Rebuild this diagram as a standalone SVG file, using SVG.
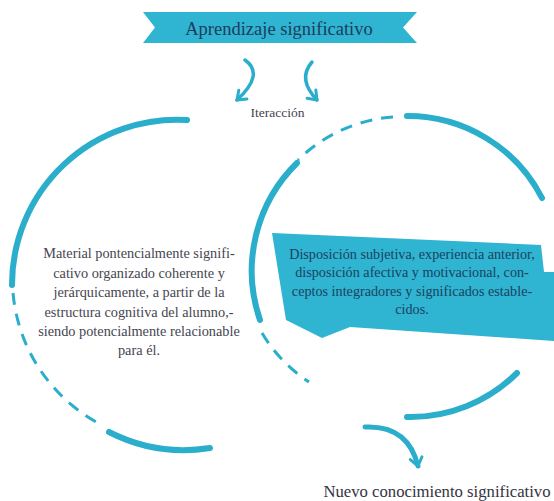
<svg xmlns="http://www.w3.org/2000/svg" width="554" height="501" viewBox="0 0 554 501">
<style>
.solid{fill:none;stroke:#2aaecb;stroke-width:6;stroke-linecap:round}
.dash{fill:none;stroke:#2aaecb;stroke-width:3;stroke-dasharray:12 9}
.conn{fill:none;stroke:#2aaecb;stroke-linecap:round}
text{font-family:'Liberation Serif','DejaVu Serif',serif;text-anchor:middle}
.grey{fill:#45454f;font-size:14.3px}
.dark{fill:#1b4260;font-size:14.2px}
</style>
<defs>
<marker id="ah" markerUnits="userSpaceOnUse" markerWidth="20" markerHeight="20" refX="0" refY="0" viewBox="-12 -10 16 20" orient="auto" overflow="visible">
<path d="M-8,-6 L0,0 L-8,6" fill="none" stroke="#2aaecb" stroke-width="3" stroke-linecap="round" stroke-linejoin="round"/>
</marker>
</defs>
<rect width="554" height="501" fill="#ffffff"/>
<g id="aprendizaje">
<polygon points="143,12 417,12 403,27.5 417,43 143,43 155,27.5" fill="#2fb4d2"/>
<text x="279" y="35" font-size="18.5" fill="#1d3d5c">Aprendizaje significativo</text>
</g>
<g id="iteraccion">
<text x="277.5" y="117" font-size="13.5" fill="#444450">Iteracción</text>
</g>
<g id="material">
<path class="solid" d="M187,120 A165,165 0 0 0 12,285"/>
<path class="dash" d="M13,293 A165,165 0 0 0 100,424"/>
<path class="solid" d="M109,432 A165,165 0 0 0 210,448"/>
<text class="grey" x="139" y="258">Material pontencialmente signifi-</text>
<text class="grey" x="139" y="278">cativo organizado coherente y</text>
<text class="grey" x="139" y="297">jerárquicamente, a partir de la</text>
<text class="grey" x="139" y="317">estructura cognitiva del alumno,-</text>
<text class="grey" x="139" y="336">siendo potencialmente relacionable</text>
<text class="grey" x="139" y="355">para él.</text>
</g>
<g id="disposicion">
<path class="solid" d="M407,116 A151,151 0 0 1 542,198"/>
<path class="dash" d="M393,117 A151,151 0 0 0 298,160"/>
<path class="solid" d="M297,163 A151,151 0 0 0 260,320"/>
<path class="dash" d="M262,333 A151,151 0 0 0 309,382"/>
<path class="solid" d="M407,417 A151,151 0 0 0 517,373"/>
<polygon points="272,233 541,245 544,272 554,272 554,341 350,327 322,338 286,320" fill="#2fb4d2"/>
<text class="dark" x="412" y="259">Disposición subjetiva, experiencia anterior,</text>
<text class="dark" x="412" y="277">disposición afectiva y motivacional, con-</text>
<text class="dark" x="412" y="296">ceptos integradores y significados estable-</text>
<text class="dark" x="412" y="314">cidos.</text>
</g>
<g id="nuevo">
<text x="437" y="497" font-size="16.7" fill="#333340">Nuevo conocimiento significativo</text>
</g>
<g id="connectors">
<path class="conn" stroke-width="3.5" d="M245,60 Q265,74 237,100" marker-end="url(#ah)"/>
<path class="conn" stroke-width="3.5" d="M312,62 Q297,79 317,100" marker-end="url(#ah)"/>
<path class="conn" stroke-width="5" d="M365,427 Q408,425 418,466" marker-end="url(#ah)"/>
</g>
</svg>
